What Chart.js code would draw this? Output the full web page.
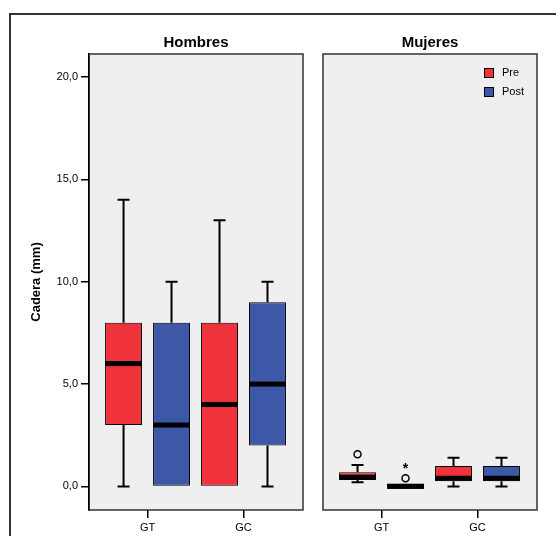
<!DOCTYPE html>
<html>
<head>
<meta charset="utf-8">
<script src="https://cdn.jsdelivr.net/npm/chart.js@4.4.0/dist/chart.umd.min.js"></script>
<style>
  html, body { margin: 0; padding: 0; background: #fff; }
  body { width: 556px; height: 536px; position: relative; overflow: hidden; }
  #marco { position: absolute; left: 9px; top: 13px; width: 600px; height: 600px;
           border-left: 2px solid #333; border-top: 2px solid #333; }
  #cajaH { position: absolute; left: 0; top: 0; width: 310px; height: 536px; }
  #cajaM { position: absolute; left: 310px; top: 0; width: 246px; height: 536px; }
</style>
</head>
<body>
<div id="marco"></div>
<div id="cajaH"><canvas id="chartH"></canvas></div>
<div id="cajaM"><canvas id="chartM"></canvas></div>
<script>
const groups = ["GT", "GC"];
const seriesNames = ["Pre", "Post"];
const seriesColors = ["rgb(240,51,58)", "rgb(62,88,168)"];
const yTicks = [0, 5, 10, 15, 20];

// por grupo (GT, GC): [min, Q1, mediana, Q3, max]
const hombresPre = [[0, 3, 6, 8, 14], [0, 0, 4, 8, 13]];
const hombresPost = [[0, 0, 3, 8, 10], [0, 2, 5, 9, 10]];
const mujeresPre = [[0.2, 0.32, 0.45, 0.69, 1.05], [0, 0.25, 0.4, 1.0, 1.4]];
const mujeresPost = [[0, 0, 0, 0.15, 0.15], [0, 0.25, 0.4, 1.0, 1.4]];

// atipicos (circulo) y extremos (asterisco), por grupo
const hombresPreOut = [[], []];
const hombresPostOut = [[], []];
const mujeresPreOut = [[1.57], []];
const mujeresPostOut = [[0.4], []];
const mujeresPreExt = [[], []];
const mujeresPostExt = [[1.05], []];

Chart.defaults.font.family = '"Liberation Sans", Arial, sans-serif';
Chart.defaults.color = "#000";

const cajasPlugin = {
    id: "cajas",
    beforeDraw(chart, args, opts) {
        const { ctx, chartArea: a } = chart;
        ctx.save();
        ctx.fillStyle = "#efefef";
        ctx.fillRect(a.left, a.top, a.width, a.height);
        ctx.strokeStyle = "#333";
        ctx.lineWidth = 1.5;
        ctx.strokeRect(a.left, a.top, a.width, a.height);
        ctx.fillStyle = "#000";
        ctx.font = 'bold 15px "Liberation Sans", Arial, sans-serif';
        ctx.textAlign = "center";
        ctx.textBaseline = "middle";
        ctx.fillText(opts.titulo, (a.left + a.right) / 2, a.top - 11);
        ctx.restore();
    },
    beforeDatasetsDraw(chart, args, opts) {
        // bigotes
        const { ctx } = chart;
        const y = chart.scales.y;
        ctx.save();
        ctx.strokeStyle = "#000";
        ctx.lineWidth = 2;
        opts.stats.forEach((serie, d) => {
            const meta = chart.getDatasetMeta(d);
            serie.forEach((s, i) => {
                const x = meta.data[i].x;
                const ends = [[s[0], s[1]], [s[4], s[3]]];
                ends.forEach(([tip, edge]) => {
                    if (tip === edge) return;
                    ctx.beginPath();
                    ctx.moveTo(x, y.getPixelForValue(tip));
                    ctx.lineTo(x, y.getPixelForValue(edge));
                    ctx.moveTo(x - 6, y.getPixelForValue(tip));
                    ctx.lineTo(x + 6, y.getPixelForValue(tip));
                    ctx.stroke();
                });
            });
        });
        ctx.restore();
    },
    afterDatasetsDraw(chart, args, opts) {
        const { ctx, chartArea: a } = chart;
        const y = chart.scales.y;
        ctx.save();
        // medianas
        opts.stats.forEach((serie, d) => {
            const meta = chart.getDatasetMeta(d);
            serie.forEach((s, i) => {
                const el = meta.data[i];
                ctx.fillStyle = "#000";
                const py = y.getPixelForValue(s[2]);
                ctx.fillRect(el.x - el.width / 2, py - 2.5, el.width, 5);
            });
        });
        // atipicos
        ctx.strokeStyle = "#000";
        ctx.lineWidth = 1.5;
        opts.outliers.forEach((serie, d) => {
            const meta = chart.getDatasetMeta(d);
            serie.forEach((vals, i) => {
                vals.forEach((v) => {
                    ctx.beginPath();
                    ctx.arc(meta.data[i].x, y.getPixelForValue(v), 3.5, 0, Math.PI * 2);
                    ctx.stroke();
                });
            });
        });
        ctx.fillStyle = "#000";
        ctx.font = 'bold 14px "Liberation Sans", Arial, sans-serif';
        ctx.textAlign = "center";
        ctx.textBaseline = "alphabetic";
        opts.extremes.forEach((serie, d) => {
            const meta = chart.getDatasetMeta(d);
            serie.forEach((vals, i) => {
                vals.forEach((v) => {
                    ctx.fillText("*", meta.data[i].x, y.getPixelForValue(v) + 8);
                });
            });
        });
        // leyenda
        if (opts.leyenda) {
            ctx.font = '11px "Liberation Sans", Arial, sans-serif';
            ctx.textAlign = "left";
            ctx.textBaseline = "middle";
            seriesNames.forEach((name, k) => {
                const top = a.top + 14 + k * 19;
                ctx.fillStyle = seriesColors[k];
                ctx.fillRect(a.right - 53, top, 9, 9);
                ctx.strokeStyle = "#000";
                ctx.lineWidth = 1;
                ctx.strokeRect(a.right - 52.5, top + 0.5, 9, 9);
                ctx.fillStyle = "#000";
                ctx.fillText(name, a.right - 35, top + 5);
            });
        }
        ctx.restore();
    },
};

function makeDatasets(series) {
    return series.map((stats, k) => ({
        label: seriesNames[k],
        data: stats.map((s, i) => ({ x: i + 1, y: [s[1], s[3]] })),
        backgroundColor: seriesColors[k],
        borderColor: "#000",
        borderWidth: 1,
        borderSkipped: false,
        barPercentage: 0.77,
        categoryPercentage: 1.0,
    }));
}

function makeChart(id, series, outliers, extremes, titulo, conEjeY, padding, leyenda) {
    return new Chart(document.getElementById(id), {
        type: "bar",
        data: { datasets: makeDatasets(series) },
        plugins: [cajasPlugin],
        options: {
            responsive: true,
            maintainAspectRatio: false,
            animation: false,
            layout: { padding: padding },
            scales: {
                x: {
                    type: "linear",
                    offset: false,
                    min: 0.39,
                    max: 2.62,
                    afterBuildTicks: (scale) => {
                        scale.ticks = groups.map((g, i) => ({ value: i + 1 }));
                    },
                    afterFit: (scale) => {
                        scale.height = 26;
                    },
                    ticks: {
                        font: { size: 11 },
                        padding: 3,
                        callback: (v, i) => groups[i],
                    },
                    grid: {
                        offset: false,
                        drawOnChartArea: false,
                        drawTicks: true,
                        tickLength: 8,
                        color: "#000",
                        lineWidth: 1.5,
                    },
                    border: { display: false },
                },
                y: {
                    display: conEjeY,
                    min: -1.15,
                    max: 21.12,
                    afterBuildTicks: (scale) => {
                        scale.ticks = yTicks.map((v) => ({ value: v }));
                    },
                    afterFit: (scale) => {
                        if (conEjeY) scale.width = 89;
                    },
                    ticks: {
                        font: { size: 11 },
                        padding: 3,
                        callback: (v) => v.toFixed(1).replace(".", ","),
                    },
                    grid: {
                        drawOnChartArea: false,
                        drawTicks: true,
                        tickLength: 8,
                        color: "#000",
                        lineWidth: 1.5,
                    },
                    border: { display: true, color: "#000", width: 1.5 },
                    title: {
                        display: true,
                        text: "Cadera (mm)",
                        font: { size: 13, weight: "bold" },
                        padding: { top: 29, bottom: 0 },
                    },
                },
            },
            plugins: {
                legend: { display: false },
                tooltip: { enabled: false },
                cajas: {
                    titulo: titulo,
                    stats: series,
                    outliers: outliers,
                    extremes: extremes,
                    leyenda: leyenda,
                },
            },
        },
    });
}

makeChart("chartH", [hombresPre, hombresPost], [hombresPreOut, hombresPostOut], [[[], []], [[], []]],
    "Hombres", true, { left: 0, right: 7, top: 54, bottom: 0 }, false);
makeChart("chartM", [mujeresPre, mujeresPost], [mujeresPreOut, mujeresPostOut], [mujeresPreExt, mujeresPostExt],
    "Mujeres", false, { left: 13, right: 19, top: 54, bottom: 0 }, true);
</script>
</body>
</html>
